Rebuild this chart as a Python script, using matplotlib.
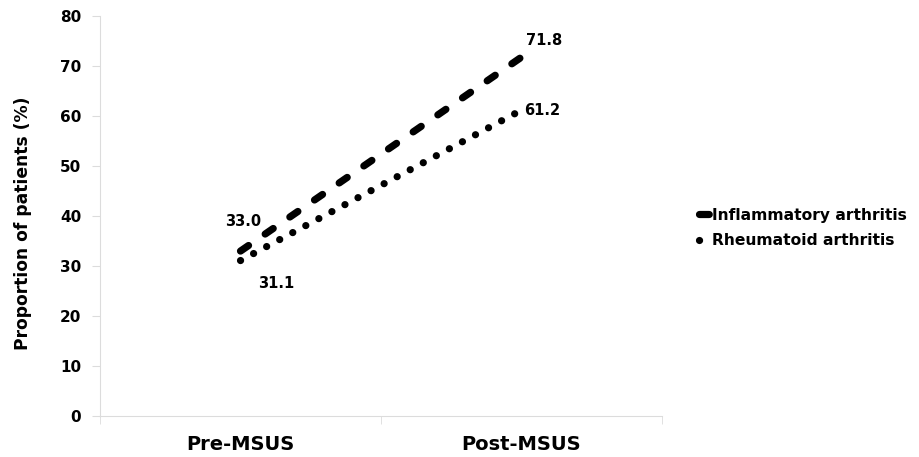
import matplotlib.pyplot as plt

# dados
categorias = ['Pre-MSUS', 'Post-MSUS']
inflamatoria = [33.0, 71.8]
reumatoide = [31.1, 61.2]
nomes = ['Inflammatory arthritis', 'Rheumatoid arthritis']

plt.rcParams['font.family'] = ['DejaVu Sans']
plt.rcParams['font.weight'] = 'bold'

fig = plt.figure(figsize=(9.2, 4.57), dpi=100)
ax = fig.add_axes([0.1087, 0.0897, 0.6109, 0.875])

x = [0.5, 1.5]
ax.plot(x, inflamatoria, color='black', lw=5.2, linestyle=(0, (1.35, 2.8)),
        dash_capstyle='round', label=nomes[0])
ax.plot(x, reumatoide, color='black', lw=5.2, linestyle=(0, (0.01, 2.04)),
        dash_capstyle='round', label=nomes[1])

# rotulos dos valores
rot = dict(textcoords='offset points', ha='center', va='center', fontsize=10.5, fontweight='bold')
ax.annotate(f'{inflamatoria[0]:.1f}', (x[0], inflamatoria[0]), xytext=(2, 21), **rot)
ax.annotate(f'{reumatoide[0]:.1f}', (x[0], reumatoide[0]), xytext=(26, -16.5), **rot)
ax.annotate(f'{inflamatoria[1]:.1f}', (x[1], inflamatoria[1]), xytext=(16.5, 12), **rot)
ax.annotate(f'{reumatoide[1]:.1f}', (x[1], reumatoide[1]), xytext=(15, 0), **rot)

ax.set_xlim(0, 2)
ax.set_ylim(0, 80)
ax.set_yticks(range(0, 81, 10))
ax.set_xticks(x)
ax.set_xticklabels(categorias)
ax.set_xticks([0, 1, 2], minor=True)
ax.tick_params(axis='y', length=5.5, color='#dcdcdc', labelsize=11, pad=8)
ax.tick_params(axis='x', which='major', length=0, labelsize=14, pad=14)
ax.tick_params(axis='x', which='minor', length=5.5, color='#dcdcdc')
for lab in ax.get_xticklabels() + ax.get_yticklabels():
    lab.set_fontweight('bold')

ax.spines['top'].set_visible(False)
ax.spines['right'].set_visible(False)
ax.spines['left'].set_color('#dcdcdc')
ax.spines['bottom'].set_color('#dcdcdc')

ax.set_ylabel('Proportion of patients (%)', fontsize=12.3, fontweight='bold')
ax.yaxis.set_label_coords(-0.121, 0.481)

leg = fig.legend(loc='center left', bbox_to_anchor=(0.760, 0.501), frameon=False,
                 prop={'size': 11.2, 'weight': 'bold'}, handlelength=0.8,
                 handletextpad=0.05, labelspacing=0.7, borderpad=0, borderaxespad=0)

fig.savefig('out.png', dpi=100)
